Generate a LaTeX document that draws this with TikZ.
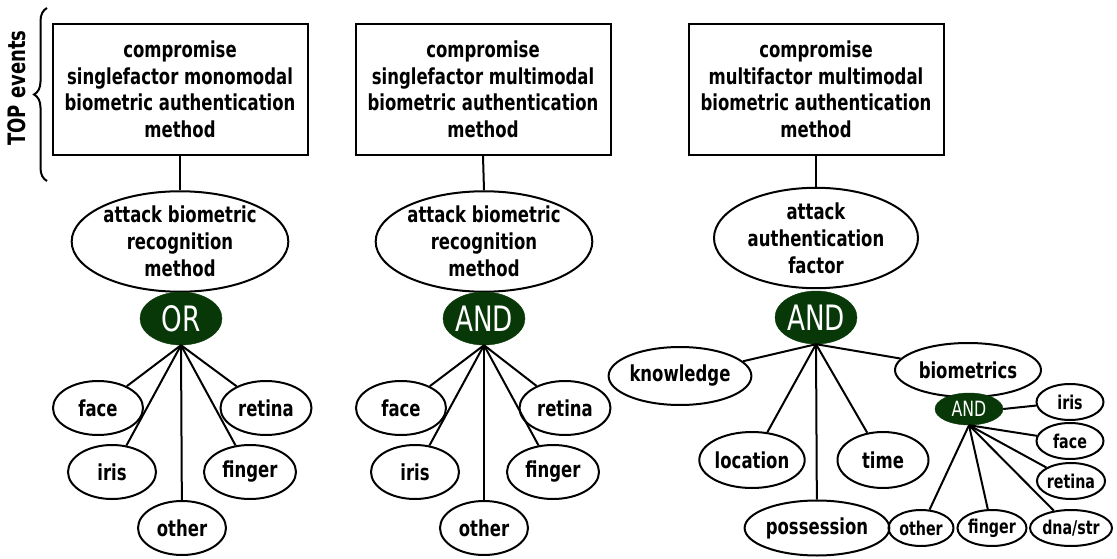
\documentclass[tikz,border=0pt]{standalone}
\usepackage{fontspec}
\setmainfont{DejaVu Sans}[FakeStretch=0.75]
\usetikzlibrary{shapes.geometric,decorations.pathreplacing}
\definecolor{gatefill}{RGB}{8,56,8}
\tikzset{
  topbox/.style={draw, line width=2pt, minimum width=255pt, minimum height=131pt, inner sep=0pt, align=center, font=\bfseries\fontsize{22}{26.5}\selectfont},
  bigell/.style={draw, ellipse, line width=2pt, minimum width=204pt, minimum height=96pt, inner sep=0pt, align=center, font=\bfseries\fontsize{22}{27}\selectfont},
  gatenode/.style={ellipse, fill=gatefill, draw=gatefill, minimum width=82pt, minimum height=53pt, inner sep=0pt, text=white, font=\fontsize{35}{35}\selectfont},
  smallgate/.style={ellipse, fill=gatefill, draw=gatefill, minimum width=68pt, minimum height=32pt, inner sep=0pt, text=white, font=\fontsize{21}{21}\selectfont},
  leafnode/.style={draw, ellipse, line width=2pt, minimum height=54pt, inner sep=0pt, font=\bfseries\fontsize{22}{22}\selectfont},
  smallleaf/.style={draw, ellipse, line width=2pt, minimum height=36pt, inner sep=0pt, font=\bfseries\fontsize{19}{19}\selectfont},
  conn/.style={line width=2pt},
}
\begin{document}
\begin{tikzpicture}[x=1pt,y=-1pt]
\useasboundingbox[fill=white] (0,0) rectangle (1117,559);
% brace and label
\draw[line width=2pt, decorate, decoration={brace, amplitude=13pt}] (47,181) -- (47,8);
\node[rotate=90, font=\bfseries\fontsize{24}{24}\selectfont] (topev) at (17,88) {TOP events};

% ---------- tree 1 ----------
\node[topbox] (b1) at (180,89.5) {compromise\\singlefactor monomodal\\biometric authentication\\method};
\node[bigell] (e1) at (180,241.5) {attack biometric\\recognition\\method};
\node[gatenode] (g1) at (181,318.5) {OR};
\node[leafnode, minimum width=90pt] (face1) at (98,408) {face};
\node[leafnode, minimum width=91pt] (retina1) at (266,408) {retina};
\node[leafnode, minimum width=88pt] (iris1) at (112,472) {iris};
\node[leafnode, minimum width=92pt] (finger1) at (250,472) {finger};
\node[leafnode, minimum width=88pt] (other1) at (182,528) {other};
\draw[conn] (b1.south) -- (e1.north);
\foreach \n in {face1,retina1,iris1,finger1,other1} \draw[conn] (g1.south) -- (\n);

% ---------- tree 2 ----------
\node[topbox] (b2) at (483,89.5) {compromise\\singlefactor multimodal\\biometric authentication\\method};
\node[bigell] (e2) at (484,241.5) {attack biometric\\recognition\\method};
\node[gatenode] (g2) at (484,318.5) {AND};
\node[leafnode, minimum width=90pt] (face2) at (401,408) {face};
\node[leafnode, minimum width=91pt] (retina2) at (565,408) {retina};
\node[leafnode, minimum width=88pt] (iris2) at (415,472) {iris};
\node[leafnode, minimum width=92pt] (finger2) at (553,472) {finger};
\node[leafnode, minimum width=88pt] (other2) at (484,528) {other};
\draw[conn] (b2.south) -- (e2.north);
\foreach \n in {face2,retina2,iris2,finger2,other2} \draw[conn] (g2.south) -- (\n);

% ---------- tree 3 ----------
\node[topbox] (b3) at (816,89.5) {compromise\\multifactor multimodal\\biometric authentication\\method};
\node[bigell] (e3) at (816,238) {attack\\authentication\\factor};
\node[gatenode] (g3) at (816,317.5) {AND};
\node[leafnode, minimum width=123pt, minimum height=58pt] (know) at (680,376) {knowledge};
\node[leafnode, minimum width=101pt, minimum height=56pt] (loc) at (752,460) {location};
\node[leafnode, minimum width=122pt, minimum height=55pt] (poss) at (817,528) {possession};
\node[leafnode, minimum width=91pt, minimum height=56pt] (time) at (883,460) {time};
\node[leafnode, minimum width=146pt, minimum height=54pt] (bio) at (968,370) {biometrics};
\node[smallgate] (sg) at (969,409) {AND};
\node[smallleaf, minimum width=67pt] (siris) at (1070,402) {iris};
\node[smallleaf, minimum width=67pt] (sface) at (1070,441) {face};
\node[smallleaf, minimum width=67pt] (sretina) at (1071,481) {retina};
\node[smallleaf, minimum width=65pt] (sother) at (921,528) {other};
\node[smallleaf, minimum width=69pt] (sfinger) at (992,528) {finger};
\node[smallleaf, minimum width=82pt] (sdna) at (1071,528) {dna/str};
\draw[conn] (b3.south) -- (e3.north);
\foreach \n in {know,loc,poss,time,bio} \draw[conn] (g3.south) -- (\n);
\draw[conn] (sg.east) -- (siris);
\foreach \n in {sface,sretina,sother,sfinger,sdna} \draw[conn] (sg.south) -- (\n);
\end{tikzpicture}
\end{document}
